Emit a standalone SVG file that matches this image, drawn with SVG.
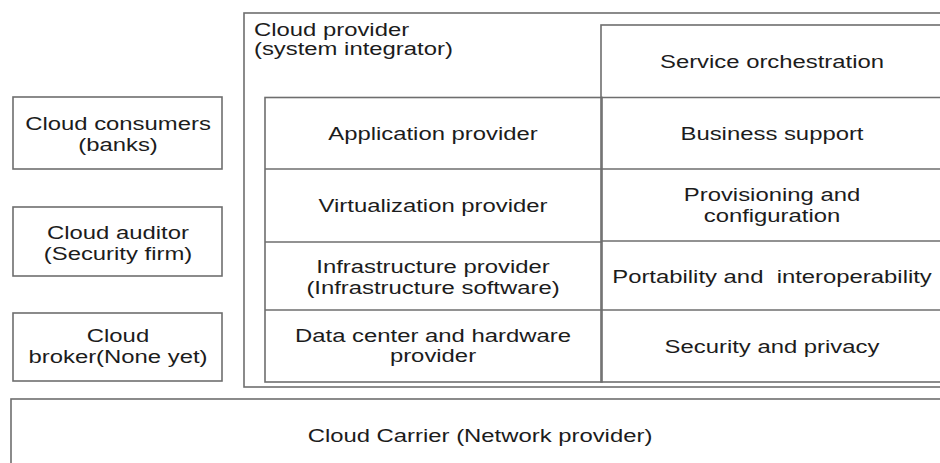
<svg xmlns="http://www.w3.org/2000/svg" width="940" height="463" viewBox="0 0 940 463">
<style>
rect{fill:none;stroke:#6e6e6e;stroke-width:1.6}
line{stroke:#6e6e6e;stroke-width:1.6}
text{font-family:"Liberation Sans",Arial,sans-serif;font-size:18.5px;fill:#1c1c1c;text-anchor:middle}
text.l{text-anchor:start}
</style>
<rect x="0" y="0" width="940" height="463" style="fill:#fff;stroke:none"/>
<g id="cloud-consumers">
<rect x="13" y="97" width="209" height="72"/>
<text transform="translate(118,130) scale(1.29,1)">Cloud consumers</text>
<text transform="translate(118,150.5) scale(1.29,1)">(banks)</text>
</g>
<g id="cloud-auditor">
<rect x="13" y="207" width="209" height="69"/>
<text transform="translate(118,239) scale(1.29,1)">Cloud auditor</text>
<text transform="translate(118,259.5) scale(1.29,1)">(Security firm)</text>
</g>
<g id="cloud-broker">
<rect x="13" y="313" width="209" height="68"/>
<text transform="translate(118,342) scale(1.29,1)">Cloud</text>
<text transform="translate(118,363) scale(1.29,1)">broker(None yet)</text>
</g>
<g id="cloud-provider">
<rect x="244" y="13" width="720" height="374"/>
<text class="l" transform="translate(254,35.5) scale(1.29,1)">Cloud provider</text>
<text class="l" transform="translate(254,55) scale(1.29,1)">(system integrator)</text>
</g>
<g id="provider-stack">
<rect x="265" y="97.5" width="337" height="284.5"/>
<line x1="265" y1="169" x2="602" y2="169"/>
<line x1="265" y1="242" x2="602" y2="242"/>
<line x1="265" y1="310" x2="602" y2="310"/>
<text transform="translate(433,140) scale(1.29,1)">Application provider</text>
<text transform="translate(433,211.5) scale(1.29,1)">Virtualization provider</text>
<text transform="translate(433,273) scale(1.29,1)">Infrastructure provider</text>
<text transform="translate(433,294) scale(1.29,1)">(Infrastructure software)</text>
<text transform="translate(433,341.5) scale(1.29,1)">Data center and hardware</text>
<text transform="translate(433,362) scale(1.29,1)">provider</text>
</g>
<g id="service-column">
<rect x="601" y="25" width="360" height="357"/>
<line x1="601" y1="97.5" x2="961" y2="97.5"/>
<line x1="601" y1="169" x2="961" y2="169"/>
<line x1="601" y1="241" x2="961" y2="241"/>
<line x1="601" y1="310" x2="961" y2="310"/>
<text transform="translate(772,68) scale(1.29,1)">Service orchestration</text>
<text transform="translate(772,139.5) scale(1.29,1)">Business support</text>
<text transform="translate(772,201) scale(1.29,1)">Provisioning and</text>
<text transform="translate(772,222) scale(1.29,1)">configuration</text>
<text transform="translate(772,283) scale(1.29,1)" xml:space="preserve">Portability and  interoperability</text>
<text transform="translate(772,353) scale(1.29,1)">Security and privacy</text>
</g>
<g id="cloud-carrier">
<rect x="11" y="399" width="950" height="80"/>
<text transform="translate(480,442) scale(1.29,1)">Cloud Carrier (Network provider)</text>
</g>
</svg>
